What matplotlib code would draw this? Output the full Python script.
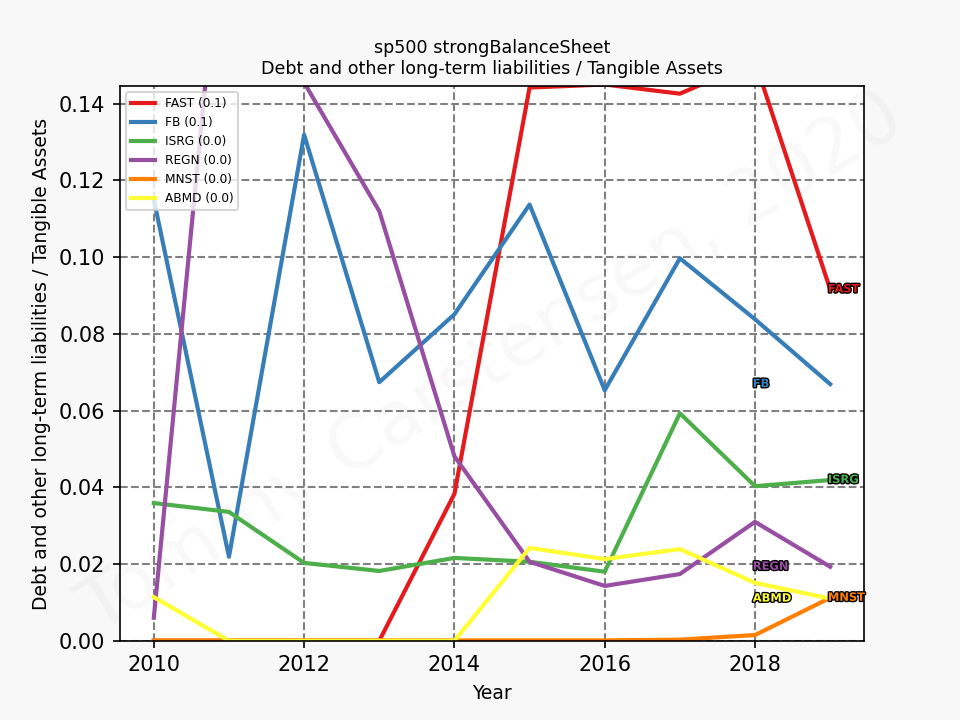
import numpy as np
import matplotlib
matplotlib.use('Agg')
import matplotlib.pyplot as plt
import matplotlib.patheffects as pe

years = [2010, 2011, 2012, 2013, 2014, 2015, 2016, 2017, 2018, 2019]

# ratio per company (some points run off the top)
fast = [0.0, 0.0, 0.0, 0.0, 0.0383, 0.1442, 0.1450, 0.1426, 0.1510, 0.0916]
fb = [0.1150, 0.0219, 0.1319, 0.0674, 0.0851, 0.1137, 0.0653, 0.0997, 0.0838, 0.0669]
isrg = [0.0359, 0.0336, 0.0203, 0.0182, 0.0216, 0.0206, 0.0180, 0.0593, 0.0403, 0.0419]
regn = [0.0060, 0.2090, 0.1455, 0.1120, 0.0481, 0.0206, 0.0143, 0.0174, 0.0310, 0.0193]
mnst = [0.0001, 0.0001, 0.0001, 0.0001, 0.0001, 0.0001, 0.0001, 0.0003, 0.0015, 0.0112]
abmd = [0.0114, 0.0, 0.0, 0.0, 0.0, 0.0242, 0.0213, 0.0239, 0.0151, 0.0110]

tickers = ['FAST', 'FB', 'ISRG', 'REGN', 'MNST', 'ABMD']
series = [fast, fb, isrg, regn, mnst, abmd]
colors = ['#e41a1c', '#377eb8', '#4daf4a', '#984ea3', '#ff7f00', '#ffff33']

fig, ax = plt.subplots(figsize=(6.4, 4.8), dpi=150)
fig.patch.set_facecolor('#f8f8f8')

for i, (name, vals, col) in enumerate(zip(tickers, series, colors)):
    ax.plot(years, vals, color=col, lw=2, label='%s (%.1f)' % (name, vals[-1]))
    # alternate the label x so the names don't pile up
    x_lab = years[-1] - (i % 2) - 0.03
    ax.text(x_lab, vals[-1], name, color=col, fontsize=5.5, fontweight='bold',
            ha='left', va='center',
            path_effects=[pe.withStroke(linewidth=1.3, foreground='black')])

ax.set_ylim(0, 0.1445)
ax.grid(True, color='gray', linestyle='--', lw=1)
ax.set_xlabel('Year', fontsize=9)
ax.set_ylabel('Debt and other long-term liabilities / Tangible Assets', fontsize=9)
ax.set_title('sp500 strongBalanceSheet\nDebt and other long-term liabilities / Tangible Assets', fontsize=8.4)
ax.legend(loc='upper left', fontsize=5.8)

ax.text(0.5, 0.5, 'Tommy Carstensen, 2020', transform=ax.transAxes,
        fontsize=36, color='gray', alpha=0.05, rotation=32,
        ha='center', va='center')

plt.savefig('out.png', facecolor=fig.get_facecolor())
